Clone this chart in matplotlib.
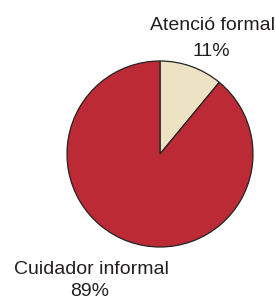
import matplotlib
matplotlib.use("Agg")
import matplotlib.pyplot as plt

labels = ["Atenció formal", "Cuidador informal"]
values = [11, 89]
colors = ["#EEE2C4", "#BC2A35"]

fig = plt.figure(figsize=(2.76, 3.01), dpi=100)
ax = fig.add_axes([0, 0, 1, 1])
ax.set_xlim(0, 276)
ax.set_ylim(0, 301)

ax.pie(values, colors=colors, startangle=90, counterclock=False,
       center=(160, 147), radius=93, frame=True,
       wedgeprops={"edgecolor": "#222222", "linewidth": 0.9})
ax.set_aspect("equal")
ax.axis("off")

# label and percent positions (pixel coords, y from bottom)
name_pos = [(212, 275), (91, 31)]
pct_pos = [(211, 249), (90, 9)]
for lab, v, (x, y), (px, py) in zip(labels, values, name_pos, pct_pos):
    ax.text(x, y, lab, ha="center", va="center", fontsize=14,
            family="Liberation Sans", color="#231F20")
    ax.text(px, py, f"{v}%", ha="center", va="center", fontsize=14,
            family="Liberation Sans", color="#231F20")

fig.savefig("out.png", dpi=100)
